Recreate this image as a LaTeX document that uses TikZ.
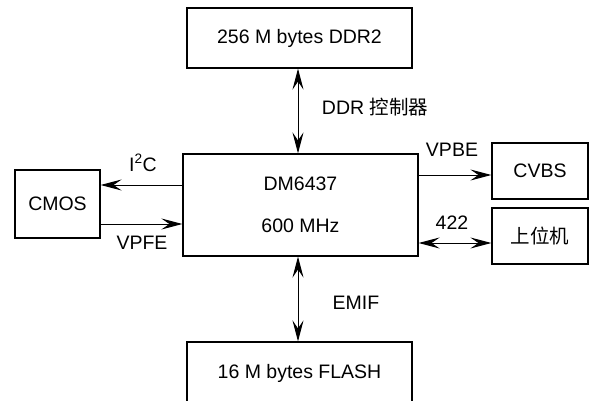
\documentclass[tikz,border=0pt]{standalone}
\usepackage{fontspec}
\setmainfont{Liberation Sans}
\newfontfamily\cjk{Noto Sans CJK SC}
\usetikzlibrary{arrows.meta}

\begin{document}
\begin{tikzpicture}[x=1pt, y=-1pt]
  \tikzset{
    block/.style={draw, line width=1.2pt, inner sep=0pt, font=\fontsize{19.5}{22}\selectfont},
    link/.style={line width=1pt, arrows={-Stealth[length=21pt, width=11pt, inset=8pt]}},
    dlink/.style={line width=1pt, arrows={Stealth[length=21pt, width=11pt, inset=8pt]-Stealth[length=21pt, width=11pt, inset=8pt]}},
    tag/.style={font=\fontsize{19.5}{22}\selectfont, inner sep=0pt}
  }

  % frame of the image
  \useasboundingbox (0,0) rectangle (589,401);
  \clip (0,0) rectangle (589,401);

  % blocks
  \node[block, minimum width=225pt, minimum height=60pt] (ddr) at (299.5,38) {256 M bytes DDR2};
  \node[block, minimum width=235pt, minimum height=102pt, align=center] (dsp) at (300.5,205) {DM6437\\[20pt]600 MHz};
  \node[block, minimum width=225pt, minimum height=62pt] (flash) at (299.5,373) {16 M bytes FLASH};
  \node[block, minimum width=85pt, minimum height=68pt] (cmos) at (57.5,204) {CMOS};
  \node[block, minimum width=96pt, minimum height=56pt] (cvbs) at (540,171) {CVBS};
  \node[block, minimum width=96pt, minimum height=56pt] (host) at (540,236) {\cjk 上位机};

  % buses
  \draw[dlink] ([xshift=-1.5pt]ddr.south) -- ([xshift=-1.5pt]ddr.south |- dsp.north);
  \draw[dlink] ([xshift=-1.5pt]flash.north |- dsp.south) -- ([xshift=-1.5pt]flash.north);
  \draw[link] ([yshift=20pt]dsp.west) -- ([yshift=20pt]dsp.west -| cmos.east);
  \draw[link] ([yshift=-19pt]dsp.west -| cmos.east) -- ([yshift=-19pt]dsp.west);
  \draw[link] ([yshift=-4pt]cvbs.west -| dsp.east) -- ([yshift=-4pt]cvbs.west);
  \draw[dlink] ([yshift=-7pt]host.west -| dsp.east) -- ([yshift=-7pt]host.west);

  % labels
  \node[tag] (ddrtag) at (375,107) {DDR {\cjk 控制器}};
  \node[tag] (emiftag) at (356,303) {EMIF};
  \node[tag] (i2ctag) at (143,163) {I\textsuperscript{2}C};
  \node[tag] (vpfetag) at (142,243) {VPFE};
  \node[tag] (vpbetag) at (452,150) {VPBE};
  \node[tag] (rstag) at (452,223) {422};
\end{tikzpicture}
\end{document}
